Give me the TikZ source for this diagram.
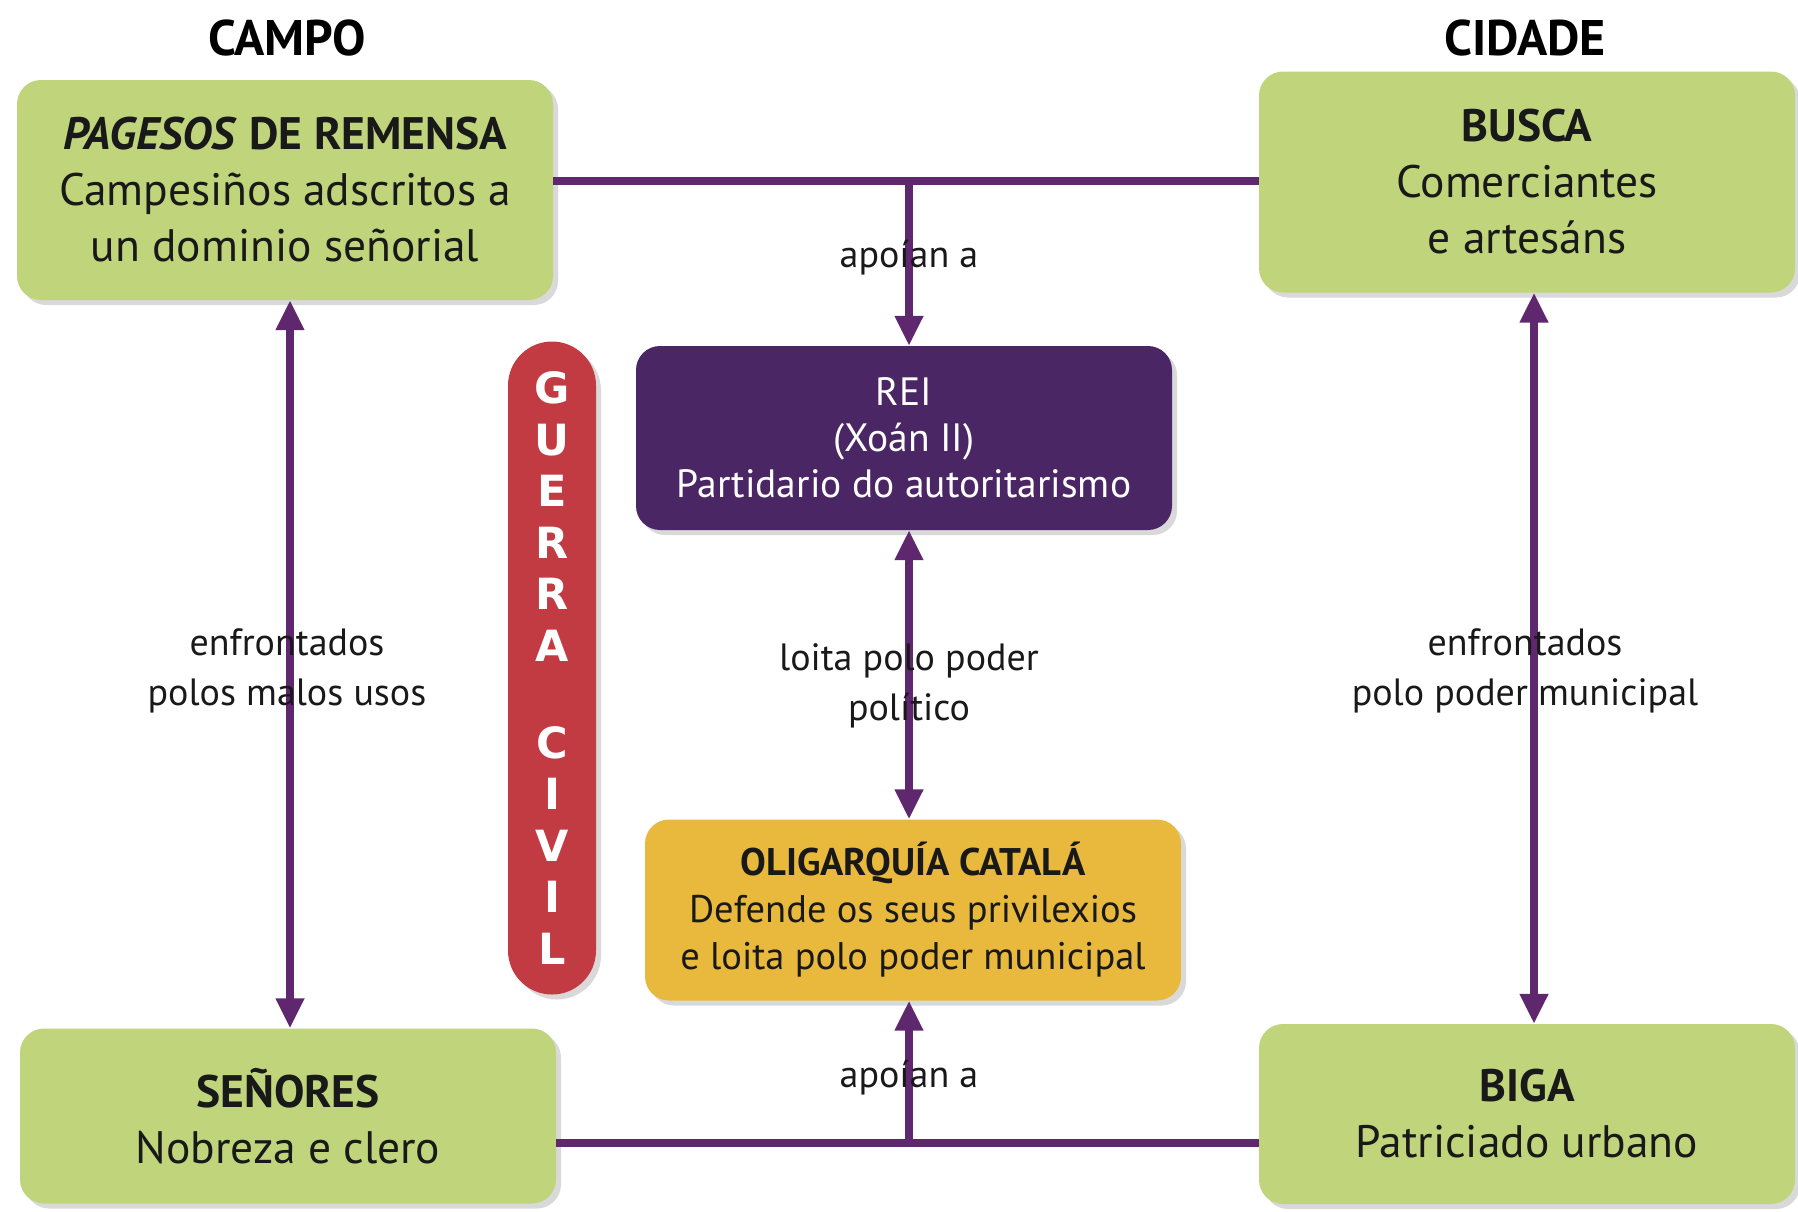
\documentclass[tikz,border=0pt]{standalone}
\usepackage{fontspec}
\setmainfont{PT Sans}
\newfontfamily\warfont{DejaVu Sans}
\usetikzlibrary{arrows.meta,shadows}
\definecolor{leaf}{HTML}{C0D47C}
\definecolor{royal}{HTML}{4B2664}
\definecolor{gold}{HTML}{E8B93C}
\definecolor{blood}{HTML}{C33B42}
\definecolor{wire}{HTML}{5F286E}
\begin{document}
\begin{tikzpicture}[x=1pt,y=1pt,
box/.style ={rectangle, rounded corners=24pt, minimum width=536pt,
  align=center, inner sep=0pt,
  drop shadow={opacity=0.3, shadow xshift=5pt, shadow yshift=-5pt}
},
campbox/.style ={box, fill=leaf, text=black!90,
  font=\fontsize{45.5}{56}\selectfont
},
kingbox/.style ={box, fill=royal, text=white, minimum height=184pt,
  font=\fontsize{39.5}{46}\selectfont
},
oligbox/.style ={box, fill=gold, text=black!90, minimum height=181pt,
  font=\fontsize{38.5}{47}\selectfont
},
warbox/.style ={rectangle, rounded corners=44pt, fill=blood, text=white,
  minimum width=88pt, minimum height=653pt, align=center, inner sep=0pt,
  font=\warfont\bfseries\fontsize{43}{51.6}\selectfont,
  drop shadow={opacity=0.3, shadow xshift=5pt, shadow yshift=-5pt}
},
head/.style ={font=\bfseries\fontsize{50}{56}\selectfont},
lab/.style ={align=center, text=black!90, inner sep=2pt,
  font=\fontsize{38}{50}\selectfont},
link/.style ={draw=wire, line width=8pt},
arr/.style ={link, -{Triangle[length=30pt,width=27pt]}},
duo/.style ={link, {Triangle[length=30pt,width=27pt]}-{Triangle[length=30pt,width=27pt]}}
]
\useasboundingbox (0,0) rectangle (1798,-1211);
\node (campo) at (287,-38) [head] {CAMPO};
\node (cidade) at (1525,-38) [head] {CIDADE};
\node (pag) at (285,-190) [campbox, minimum height=220pt]
  {\textbf{\textit{PAGESOS} DE REMENSA}\\Campesiños adscritos a\\un dominio señorial};
\node (busca) at (1527,-182) [campbox, minimum height=221pt]
  {\textbf{BUSCA}\\Comerciantes\\e artesáns};
\node (sen) at (288,-1116) [campbox, minimum height=175pt]
  {\textbf{SEÑORES}\\Nobreza e clero};
\node (biga) at (1527,-1114) [campbox, minimum height=180pt]
  {\textbf{BIGA}\\Patriciado urbano};
\node (rei) at (904,-438) [kingbox]
  {REI\\(Xoán II)\\Partidario do autoritarismo};
\node (olig) at (913,-910) [oligbox]
  {\textbf{OLIGARQUÍA CATALÁ}\\Defende os seus privilexios\\e loita polo poder municipal};
\node (guerra) at (552,-668) [warbox]
  {G\\U\\E\\R\\R\\A\\[45pt]C\\I\\V\\I\\L};
% connectors
\coordinate (topmid) at (909,-181);
\coordinate (botmid) at (909,-1143);
\draw[link] (topmid -| pag.east) -- (topmid -| busca.west);
\draw[link] (botmid -| sen.east) -- (botmid -| biga.west);
\draw[arr] (topmid) -- (topmid |- rei.north);
\draw[arr] (botmid) -- (botmid |- olig.south);
\draw[duo] (topmid |- rei.south) -- (topmid |- olig.north);
\draw[duo] (pag.south -| 290,0) -- (sen.north -| 290,0);
\draw[duo] (busca.south -| 1534,0) -- (biga.north -| 1534,0);
% labels
\node (apoio1) at (909,-258) [lab] {apoían a};
\node (apoio2) at (909,-1078) [lab] {apoían a};
\node (loita) at (909,-686) [lab] {loita polo poder\\político};
\node (enfr1) at (287,-671) [lab] {enfrontados\\polos malos usos};
\node (enfr2) at (1525,-671) [lab] {enfrontados\\polo poder municipal};
\end{tikzpicture}
\end{document}
